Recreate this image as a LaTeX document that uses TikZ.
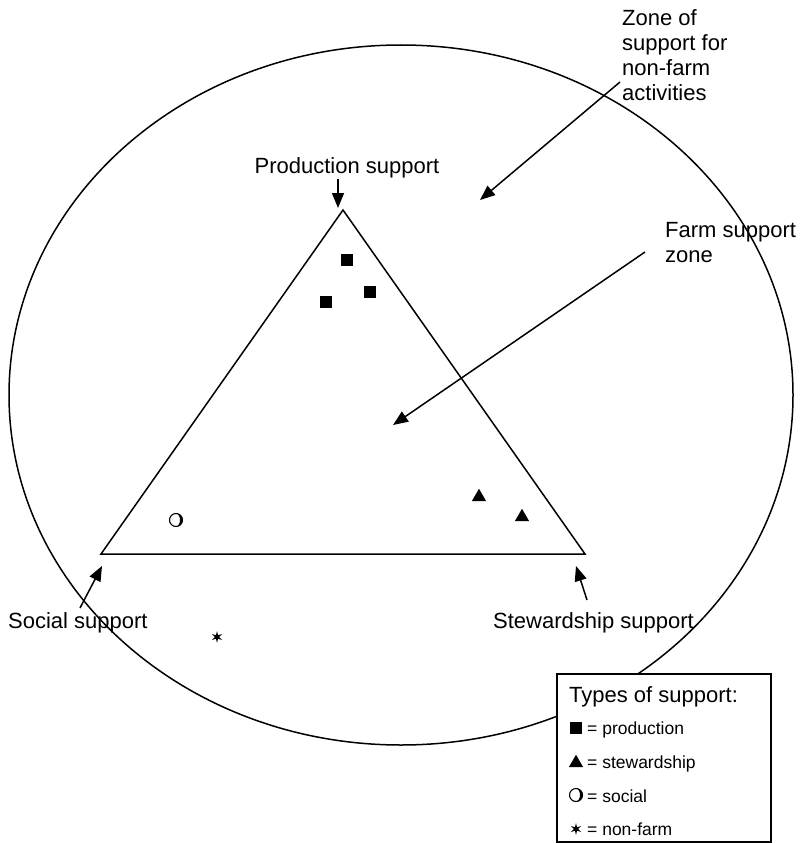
\documentclass[tikz,border=0pt]{standalone}
\usepackage{fontspec}
\setmainfont{Liberation Sans}
\usetikzlibrary{arrows.meta,shapes.geometric,calc}
\tikzset{
  big/.style={font=\fontsize{22}{25}\selectfont, inner sep=0pt},
  small/.style={font=\fontsize{17.5}{20}\selectfont, inner sep=0pt},
  ptr/.style={line width=1.5pt, -{Triangle[length=15pt,width=12pt]}},
  sqm/.style={rectangle, fill=black, minimum size=11.5pt, inner sep=0pt},
  trm/.style={regular polygon, regular polygon sides=3, fill=black, minimum size=16.5pt, inner sep=0pt},
  stm/.style={star, star points=6, star point ratio=3, fill=black, minimum size=12pt, inner sep=0pt},
  ring/.style={circle, draw=black, line width=1.1pt, minimum size=13pt, inner sep=0pt},
}
\newcommand{\crescent}[1]{\fill ($(#1)+(0,-6.5)$) arc[start angle=-90,end angle=90,radius=6.5] arc[start angle=90,end angle=-90,x radius=4,y radius=6.5] -- cycle;}
\begin{document}
\begin{tikzpicture}[x=1pt,y=-1pt]
\useasboundingbox (0,0) rectangle (802,843);
% outer zone
\draw[line width=1.5pt] (401,395) ellipse [x radius=392, y radius=350];
% triangle
\coordinate (A) at (343,210);
\coordinate (B) at (101,554);
\coordinate (C) at (585,554);
\draw[line width=1.5pt, line join=miter] (A) -- (B) -- (C) -- cycle;
% markers
\node[sqm] (p1) at (347,260) {};
\node[sqm] (p2) at (370,292) {};
\node[sqm] (p3) at (326,302) {};
\node[trm] (s1) at (479,497) {};
\node[trm] (s2) at (522,517) {};
\node[ring] (o1) at (176,520) {};
\crescent{o1}
\node[stm] (n1) at (217,637) {};
% labels
\node[big, anchor=base] (prod) at (347,173) {Production support};
\node[big, anchor=base west] (soc) at (8,628) {Social support};
\node[big, anchor=base west] (stew) at (493,628) {Stewardship support};
\node[big, anchor=north west, align=left] (zone) at (622,9) {Zone of\\support for\\non-farm\\activities};
\node[big, anchor=north west, align=left] (farm) at (665,222) {Farm support\\zone};
% arrows
\coordinate (prodT) at (338,179);
\coordinate (prodH) at (338,208);
\draw[ptr] (prodT) -- (prodH);
\coordinate (zoneT) at (620,82);
\coordinate (zoneH) at (480,200);
\draw[ptr] (zoneT) -- (zoneH);
\coordinate (farmT) at (645,252);
\coordinate (farmH) at (393,425);
\draw[ptr] (farmT) -- (farmH);
\coordinate (socT) at (80,608);
\coordinate (socH) at (102,566);
\draw[ptr] (socT) -- (socH);
\coordinate (stewT) at (587,600);
\coordinate (stewH) at (576,566);
\draw[ptr] (stewT) -- (stewH);
% legend
\node[draw=black, fill=white, line width=1.8pt, minimum width=214pt, minimum height=168pt, anchor=north west, inner sep=0pt] (leg) at (556,673) {};
\node[big, anchor=base west] (legT) at (569,702) {Types of support:};
\node[sqm] (lp) at (576,728) {};
\node[small, anchor=base west] (lpT) at (587,734) {= production};
\node[trm] (ls) at (576,763) {};
\node[small, anchor=base west] (lsT) at (587,768) {= stewardship};
\node[ring] (lo) at (576,795) {};
\crescent{lo}
\node[small, anchor=base west] (loT) at (587,802) {= social};
\node[stm] (ln) at (576,829) {};
\node[small, anchor=base west] (lnT) at (587,835) {= non-farm};
\end{tikzpicture}
\end{document}
